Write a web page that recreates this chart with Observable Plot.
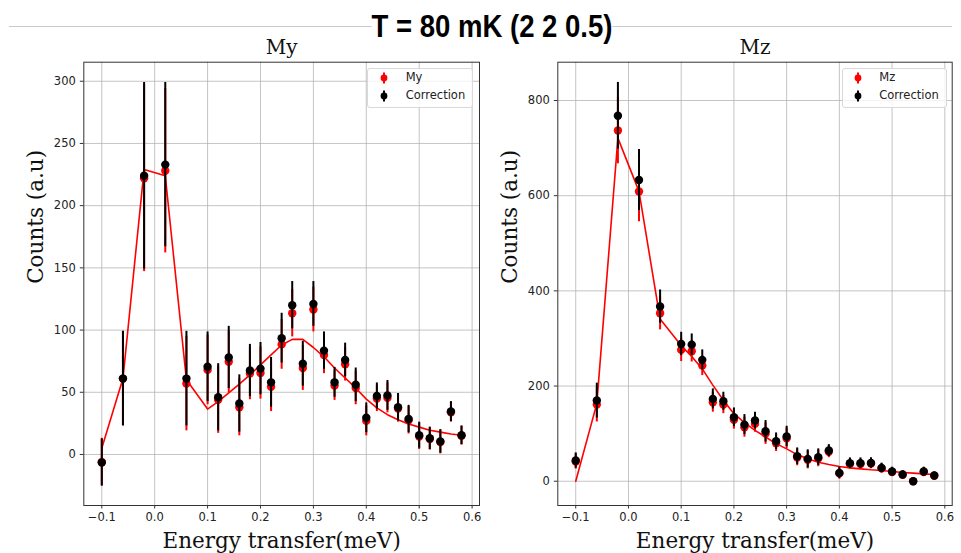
<!DOCTYPE html>
<html><head><meta charset="utf-8">
<script src="https://cdn.jsdelivr.net/npm/d3@7"></script>
<script src="https://cdn.jsdelivr.net/npm/@observablehq/plot@0.6"></script>
<style>
body{margin:0;background:#fff;}
#wrap{position:relative;width:961px;height:553px;overflow:hidden;background:#fff;}
.hline{position:absolute;left:9px;top:26px;width:943px;height:0;border-top:1.3px solid #c8c8c8;}
.title{position:absolute;left:492px;top:10.4px;transform:translateX(-50%) scaleX(0.86);font:bold 32px "Liberation Sans",Arial,sans-serif;line-height:1;background:#fff;white-space:nowrap;color:#000;}
.panel{position:absolute;top:0;}
.legend{position:absolute;top:68.3px;height:39.4px;box-sizing:border-box;border:1px solid #d9d9d9;border-radius:3px;background:rgba(255,255,255,0.8);font:11.5px "DejaVu Sans",sans-serif;color:#222;}
.legend .txt{position:absolute;line-height:1;white-space:nowrap;}
.legend svg{position:absolute;}
</style>
</head><body>
<div id="wrap">
  <div class="hline"></div>
  <div class="title">T = 80 mK (2 2 0.5)</div>
</div>
<script>
// Energy transfer (meV)
const E = [-0.1,-0.06,-0.02,0.02,0.06,0.1,0.12,0.14,0.16,0.18,0.2,0.22,0.24,0.26,0.28,0.3,0.32,0.34,0.36,0.38,0.4,0.42,0.44,0.46,0.48,0.5,0.52,0.54,0.56,0.58];

// My panel
const myRed   = [-6,61,222,228,57,68,44,74.5,38,65,65.5,54.5,88.5,113.5,69.5,116.5,80,55.5,72.5,53.5,27,45,45.5,37,27.5,14.5,12.5,10,34,15];
const myBlack = [-6.5,61,224,233,61,70.5,46,78,41,67.5,69,58,93.5,120,73,121,83.5,58,76,56,29.5,47,47.5,38,28.5,15.5,13,10.5,34.5,15.5];
const myErr   = [19,38,75,66,38,28,27,25,23,21,21,20,20,19,18,18,15,12,13.5,13.5,12,10.5,12,11,11,10.5,9,9.5,8,7.5];
const myFit   = [5,61,229,224,60,36.5,42.5,49.5,56.5,64,72,80,88,92.5,92.5,86,78.5,69.5,61.5,53.5,44.5,37.5,32,28,24.5,22,19.5,18,16.5,15.5];

// Mz panel
const mzRed   = [41.5,161,737,609,353,276,273,243,166,161,129,113.5,120.5,100,80,90,50,45,48,62,16.5,36,36,37,27,19.5,13.5,0,19.5,11.5];
const mzBlack = [43.5,169.5,768,633,367,288.5,287,255,173,168,134.5,119,127.5,105,84,94,52.5,47,50.5,64.5,17.5,38,38,38.5,28,20.5,14,0,20.5,12];
const mzErr   = [16,36.5,70,64,35,24.5,22.5,21,21,19,19.5,21,17.5,22.5,17.5,21.5,17.5,19,17.5,12.5,12,11,11,11,10,9,8,4,9,7];
const mzFit   = [0,163,721,609,341,285,262,236,202,170,142,123,107,93,79,68,56,47,40,35,31,28,26,24,22.5,20.5,18.5,17,15.5,14];

// Ticks
const xTicks = [-0.1,0,0.1,0.2,0.3,0.4,0.5,0.6];
const myTicks = [0,50,100,150,200,250,300];
const mzTicks = [0,200,400,600,800];

const serif = "'DejaVu Serif', serif";

function panel({left, width, ml, mr, yDomain, yTicks, red, redErr, black, blackErr, fit, title}) {
  const rows = E.map((e, i) => ({e, red: red[i], redErr: redErr[i], black: black[i], blackErr: blackErr[i], fit: fit[i]}));
  const svg = Plot.plot({
    width, height: 553,
    marginLeft: ml, marginRight: mr, marginTop: 61.7, marginBottom: 48,
    style: {fontFamily: "'DejaVu Sans', sans-serif", fontSize: "11.5px", color: "#222", background: "transparent", overflow: "visible"},
    x: {domain: [-0.134, 0.614]},
    y: {domain: yDomain},
    marks: [
      Plot.gridX(xTicks, {stroke: "#b0b0b0", strokeOpacity: 0.75, strokeWidth: 1}),
      Plot.gridY(yTicks, {stroke: "#b0b0b0", strokeOpacity: 0.75, strokeWidth: 1}),
      Plot.frame({stroke: "#333", strokeWidth: 1}),
      Plot.axisX(xTicks, {tickFormat: d3.format(".1f"), tickSize: 3.5, tickPadding: 4, label: null, stroke: "#333"}),
      Plot.axisY(yTicks, {tickSize: 3.5, tickPadding: 4.5, label: null, stroke: "#333"}),
      Plot.line(rows, {x: "e", y: "fit", stroke: "red", strokeWidth: 1.6}),
      Plot.ruleX(rows, {x: "e", y1: d => d.red - d.redErr, y2: d => d.red + d.redErr, stroke: "red", strokeWidth: 2}),
      Plot.dot(rows, {x: "e", y: "red", r: 4.2, fill: "red"}),
      Plot.ruleX(rows, {x: "e", y1: d => d.black - d.blackErr, y2: d => d.black + d.blackErr, stroke: "black", strokeWidth: 2}),
      Plot.dot(rows, {x: "e", y: "black", r: 4.2, fill: "black"}),
      Plot.text([title], {text: d => d, frameAnchor: "top", dy: -8.7, lineAnchor: "bottom", fontFamily: serif, fontSize: 20, fill: "#111"}),
      Plot.text(["Energy transfer(meV)"], {text: d => d, frameAnchor: "bottom", dy: 42, lineAnchor: "bottom", fontFamily: serif, fontSize: 21.5, fill: "#111"}),
      Plot.text(["Counts (a.u)"], {text: d => d, frameAnchor: "left", dx: -47.8, rotate: -90, lineAnchor: "middle", fontFamily: serif, fontSize: 21.5, fill: "#111"})
    ]
  });
  const div = document.createElement("div");
  div.className = "panel";
  div.style.left = left + "px";
  div.appendChild(svg);
  document.getElementById("wrap").appendChild(div);
}

function legend(left, width, markerX, textX, label) {
  const box = document.createElement("div");
  box.className = "legend";
  box.style.left = left + "px";
  box.style.width = width + "px";
  const items = [[label, "red", 9.4], ["Correction", "black", 27.4]];
  items.forEach(([txt, col, cy]) => {
    const ns = "http://www.w3.org/2000/svg";
    const s = document.createElementNS(ns, "svg");
    s.setAttribute("width", 12); s.setAttribute("height", 14);
    s.style.left = (markerX - 6) + "px";
    s.style.top = (cy - 7 - 1) + "px";
    const l = document.createElementNS(ns, "line");
    l.setAttribute("x1", 6); l.setAttribute("x2", 6); l.setAttribute("y1", 1.5); l.setAttribute("y2", 12.5);
    l.setAttribute("stroke", col); l.setAttribute("stroke-width", 2);
    const c = document.createElementNS(ns, "circle");
    c.setAttribute("cx", 6); c.setAttribute("cy", 7); c.setAttribute("r", 3.4); c.setAttribute("fill", col);
    s.appendChild(l); s.appendChild(c);
    box.appendChild(s);
    const t = document.createElement("div");
    t.className = "txt";
    t.textContent = txt;
    t.style.left = (textX - 1) + "px";
    t.style.top = (cy - 7) + "px";
    box.appendChild(t);
  });
  document.getElementById("wrap").appendChild(box);
}

panel({left: 0, width: 490, ml: 83.3, mr: 11, yDomain: [-41, 315.3], yTicks: myTicks,
       red: myRed, redErr: myErr, black: myBlack, blackErr: myErr, fit: myFit, title: "My"});
panel({left: 490, width: 471, ml: 67.3, mr: 9.3, yDomain: [-51, 880.5], yTicks: mzTicks,
       red: mzRed, redErr: mzErr, black: mzBlack, blackErr: mzErr, fit: mzFit, title: "Mz"});
legend(367.3, 106, 16, 38.4, "My");
legend(841.7, 105, 15.6, 37.6, "Mz");
</script>
</body></html>
